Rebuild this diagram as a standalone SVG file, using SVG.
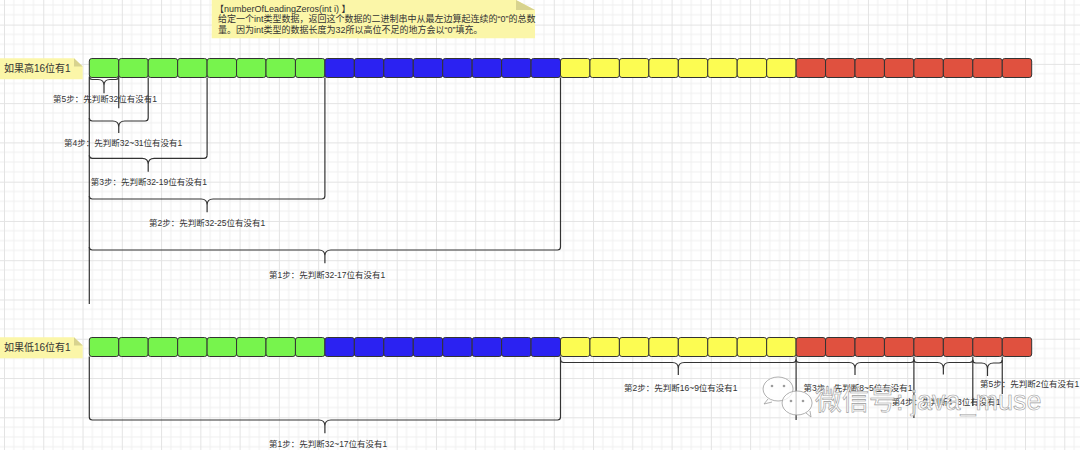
<svg xmlns="http://www.w3.org/2000/svg" width="1080" height="450" viewBox="0 0 1080 450">
<defs>
<pattern id="grid" patternUnits="userSpaceOnUse" x="4" y="24.6" width="39.27" height="39.27">
<path d="M0 9.82H39.27M0 19.64H39.27M0 29.45H39.27M9.82 0V39.27M19.64 0V39.27M29.45 0V39.27" stroke="#efefef" stroke-width="1" fill="none"/>
<path d="M0 0.5H39.27M0.5 0V39.27" stroke="#e3e3e3" stroke-width="1" fill="none"/>
</pattern>
<style>
.c{stroke:#333;stroke-width:1;rx:2.5px}
.g{fill:#77f44d}.b{fill:#2b22f2}.y{fill:#fcfc52}.r{fill:#e0513f}
.note{fill:#fbf6a8}.fold{fill:#d8d38e}
.t{font-family:"Liberation Sans","Noto Sans CJK SC",sans-serif;fill:#333}
.lbl{font-size:8.5px}
.rl{font-size:10px}
.nt{font-size:9px}
.br{fill:none;stroke:#333;stroke-width:1.2}
.wm{font-family:"Liberation Sans","Noto Sans CJK SC",sans-serif;font-size:27px;fill:#fff;fill-opacity:.75;stroke:#9c9c9c;stroke-width:.6}
.wb{fill:#fff;fill-opacity:.75;stroke:#9c9c9c;stroke-width:.8}
</style>
</defs>
<rect width="1080" height="450" fill="#fff"/>
<rect width="1080" height="450" fill="url(#grid)"/>

<g id="note-desc">
<path class="note" d="M211.7 0H516L535 10V38.3H211.7Z"/>
<path class="fold" d="M516 0V10H535Z"/>
<text class="t nt" x="215" y="12.2">【numberOfLeadingZeros(int i) 】</text>
<text class="t nt" x="218" y="22.4">给定一个int类型数据，返回这个数据的二进制串中从最左边算起连续的“0”的总数</text>
<text class="t nt" x="218" y="32.7">量。因为int类型的数据长度为32所以高位不足的地方会以“0”填充。</text>
</g>

<g id="label-high">
<path class="note" d="M0 58.3H74L82.7 66.5V79.3H0Z"/>
<path class="fold" d="M74 58.3V66.5H82.7Z"/>
<text class="t rl" x="4" y="71.8">如果高16位有1</text>
</g>
<g id="label-low">
<path class="note" d="M0 337.3H74L82.7 345.5V358.3H0Z"/>
<path class="fold" d="M74 337.3V345.5H82.7Z"/>
<text class="t rl" x="4" y="351.2">如果低16位有1</text>
</g>

<g id="top-row">
<g id="top-bit32"><rect class="c g" x="89.3" y="58.5" width="29.45" height="19"/></g>
<g id="top-bit31"><rect class="c g" x="118.75" y="58.5" width="29.45" height="19"/></g>
<g id="top-bit30"><rect class="c g" x="148.2" y="58.5" width="29.45" height="19"/></g>
<g id="top-bit29"><rect class="c g" x="177.65" y="58.5" width="29.45" height="19"/></g>
<g id="top-bit28"><rect class="c g" x="207.1" y="58.5" width="29.45" height="19"/></g>
<g id="top-bit27"><rect class="c g" x="236.55" y="58.5" width="29.45" height="19"/></g>
<g id="top-bit26"><rect class="c g" x="266" y="58.5" width="29.45" height="19"/></g>
<g id="top-bit25"><rect class="c g" x="295.45" y="58.5" width="29.45" height="19"/></g>
<g id="top-bit24"><rect class="c b" x="324.9" y="58.5" width="29.45" height="19"/></g>
<g id="top-bit23"><rect class="c b" x="354.35" y="58.5" width="29.45" height="19"/></g>
<g id="top-bit22"><rect class="c b" x="383.8" y="58.5" width="29.45" height="19"/></g>
<g id="top-bit21"><rect class="c b" x="413.25" y="58.5" width="29.45" height="19"/></g>
<g id="top-bit20"><rect class="c b" x="442.7" y="58.5" width="29.45" height="19"/></g>
<g id="top-bit19"><rect class="c b" x="472.15" y="58.5" width="29.45" height="19"/></g>
<g id="top-bit18"><rect class="c b" x="501.6" y="58.5" width="29.45" height="19"/></g>
<g id="top-bit17"><rect class="c b" x="531.05" y="58.5" width="29.45" height="19"/></g>
<g id="top-bit16"><rect class="c y" x="560.5" y="58.5" width="29.45" height="19"/></g>
<g id="top-bit15"><rect class="c y" x="589.95" y="58.5" width="29.45" height="19"/></g>
<g id="top-bit14"><rect class="c y" x="619.4" y="58.5" width="29.45" height="19"/></g>
<g id="top-bit13"><rect class="c y" x="648.85" y="58.5" width="29.45" height="19"/></g>
<g id="top-bit12"><rect class="c y" x="678.3" y="58.5" width="29.45" height="19"/></g>
<g id="top-bit11"><rect class="c y" x="707.75" y="58.5" width="29.45" height="19"/></g>
<g id="top-bit10"><rect class="c y" x="737.2" y="58.5" width="29.45" height="19"/></g>
<g id="top-bit9"><rect class="c y" x="766.65" y="58.5" width="29.45" height="19"/></g>
<g id="top-bit8"><rect class="c r" x="796.1" y="58.5" width="29.45" height="19"/></g>
<g id="top-bit7"><rect class="c r" x="825.55" y="58.5" width="29.45" height="19"/></g>
<g id="top-bit6"><rect class="c r" x="855" y="58.5" width="29.45" height="19"/></g>
<g id="top-bit5"><rect class="c r" x="884.45" y="58.5" width="29.45" height="19"/></g>
<g id="top-bit4"><rect class="c r" x="913.9" y="58.5" width="29.45" height="19"/></g>
<g id="top-bit3"><rect class="c r" x="943.35" y="58.5" width="29.45" height="19"/></g>
<g id="top-bit2"><rect class="c r" x="972.8" y="58.5" width="29.45" height="19"/></g>
<g id="top-bit1"><rect class="c r" x="1002.25" y="58.5" width="29.45" height="19"/></g>
</g>

<g id="bottom-row">
<g id="bot-bit32"><rect class="c g" x="89.3" y="337.5" width="29.45" height="19"/></g>
<g id="bot-bit31"><rect class="c g" x="118.75" y="337.5" width="29.45" height="19"/></g>
<g id="bot-bit30"><rect class="c g" x="148.2" y="337.5" width="29.45" height="19"/></g>
<g id="bot-bit29"><rect class="c g" x="177.65" y="337.5" width="29.45" height="19"/></g>
<g id="bot-bit28"><rect class="c g" x="207.1" y="337.5" width="29.45" height="19"/></g>
<g id="bot-bit27"><rect class="c g" x="236.55" y="337.5" width="29.45" height="19"/></g>
<g id="bot-bit26"><rect class="c g" x="266" y="337.5" width="29.45" height="19"/></g>
<g id="bot-bit25"><rect class="c g" x="295.45" y="337.5" width="29.45" height="19"/></g>
<g id="bot-bit24"><rect class="c b" x="324.9" y="337.5" width="29.45" height="19"/></g>
<g id="bot-bit23"><rect class="c b" x="354.35" y="337.5" width="29.45" height="19"/></g>
<g id="bot-bit22"><rect class="c b" x="383.8" y="337.5" width="29.45" height="19"/></g>
<g id="bot-bit21"><rect class="c b" x="413.25" y="337.5" width="29.45" height="19"/></g>
<g id="bot-bit20"><rect class="c b" x="442.7" y="337.5" width="29.45" height="19"/></g>
<g id="bot-bit19"><rect class="c b" x="472.15" y="337.5" width="29.45" height="19"/></g>
<g id="bot-bit18"><rect class="c b" x="501.6" y="337.5" width="29.45" height="19"/></g>
<g id="bot-bit17"><rect class="c b" x="531.05" y="337.5" width="29.45" height="19"/></g>
<g id="bot-bit16"><rect class="c y" x="560.5" y="337.5" width="29.45" height="19"/></g>
<g id="bot-bit15"><rect class="c y" x="589.95" y="337.5" width="29.45" height="19"/></g>
<g id="bot-bit14"><rect class="c y" x="619.4" y="337.5" width="29.45" height="19"/></g>
<g id="bot-bit13"><rect class="c y" x="648.85" y="337.5" width="29.45" height="19"/></g>
<g id="bot-bit12"><rect class="c y" x="678.3" y="337.5" width="29.45" height="19"/></g>
<g id="bot-bit11"><rect class="c y" x="707.75" y="337.5" width="29.45" height="19"/></g>
<g id="bot-bit10"><rect class="c y" x="737.2" y="337.5" width="29.45" height="19"/></g>
<g id="bot-bit9"><rect class="c y" x="766.65" y="337.5" width="29.45" height="19"/></g>
<g id="bot-bit8"><rect class="c r" x="796.1" y="337.5" width="29.45" height="19"/></g>
<g id="bot-bit7"><rect class="c r" x="825.55" y="337.5" width="29.45" height="19"/></g>
<g id="bot-bit6"><rect class="c r" x="855" y="337.5" width="29.45" height="19"/></g>
<g id="bot-bit5"><rect class="c r" x="884.45" y="337.5" width="29.45" height="19"/></g>
<g id="bot-bit4"><rect class="c r" x="913.9" y="337.5" width="29.45" height="19"/></g>
<g id="bot-bit3"><rect class="c r" x="943.35" y="337.5" width="29.45" height="19"/></g>
<g id="bot-bit2"><rect class="c r" x="972.8" y="337.5" width="29.45" height="19"/></g>
<g id="bot-bit1"><rect class="c r" x="1002.25" y="337.5" width="29.45" height="19"/></g>
</g>

<g id="connectors">
<path class="br" d="M89.3 77.5V304M118.75 77.5V108.3M148.2 77.5V118M207.1 77.5V155.3M324.9 77.5V196M560.5 77.5V247"/>
<path class="br" d="M89.3 76.5Q89.3 79.5 92.3 79.5L98 79.5Q104 79.5 104 85.5Q104 79.5 110 79.5L115.75 79.5Q118.75 79.5 118.75 76.5M104 85.5L104 93.3"/>
<path class="br" d="M89.3 118Q89.3 121 92.3 121L112.75 121Q118.75 121 118.75 127Q118.75 121 124.75 121L145.2 121Q148.2 121 148.2 118M118.75 127L118.75 133"/>
<path class="br" d="M89.3 155.3Q89.3 158.3 92.3 158.3L142.2 158.3Q148.2 158.3 148.2 164.3Q148.2 158.3 154.2 158.3L204.1 158.3Q207.1 158.3 207.1 155.3M148.2 164.3L148.2 171.7"/>
<path class="br" d="M89.3 196Q89.3 199 92.3 199L201.1 199Q207.1 199 207.1 205Q207.1 199 213.1 199L321.9 199Q324.9 199 324.9 196M207.1 205L207.1 212.3"/>
<path class="br" d="M89.3 247Q89.3 250 92.3 250L318.9 250Q324.9 250 324.9 256Q324.9 250 330.9 250L557.5 250Q560.5 250 560.5 247M324.9 256L324.9 263.3"/>
<path class="br" d="M89.3 356.5V417M560.5 356.5V417M796.1 356.5V420M913.9 356.5V418M972.8 356.5V406M1002.25 356.5V394"/>
<path class="br" d="M89.3 417Q89.3 420 92.3 420L318.9 420Q324.9 420 324.9 426Q324.9 420 330.9 420L557.5 420Q560.5 420 560.5 417M324.9 426L324.9 433.3"/>
<path class="br" d="M560.5 359.5Q560.5 362.5 563.5 362.5L672.3 362.5Q678.3 362.5 678.3 368.5Q678.3 362.5 684.3 362.5L793.1 362.5Q796.1 362.5 796.1 359.5M678.3 368.5L678.3 375"/>
<path class="br" d="M796.1 359.5Q796.1 362.5 799.1 362.5L849 362.5Q855 362.5 855 368.5Q855 362.5 861 362.5L910.9 362.5Q913.9 362.5 913.9 359.5M855 368.5L855 375"/>
<path class="br" d="M913.9 359.5Q913.9 362.5 916.9 362.5L937.35 362.5Q943.35 362.5 943.35 368.5Q943.35 362.5 949.35 362.5L969.8 362.5Q972.8 362.5 972.8 359.5M943.35 368.5L943.35 374.5"/>
<path class="br" d="M972.8 360Q972.8 363 975.8 363L981.5 363Q987.5 363 987.5 369Q987.5 363 993.5 363L999.25 363Q1002.25 363 1002.25 360M987.5 369L987.5 376"/>
</g>

<g id="step-labels">
<text class="t lbl" x="53" y="102.3">第5步：先判断32位有没有1</text>
<text class="t lbl" x="64" y="145.7">第4步：先判断32~31位有没有1</text>
<text class="t lbl" x="90.7" y="185.3">第3步：先判断32-19位有没有1</text>
<text class="t lbl" x="149" y="225.7">第2步：先判断32-25位有没有1</text>
<text class="t lbl" x="269" y="278">第1步：先判断32-17位有没有1</text>
<text class="t lbl" x="269" y="447.3">第1步：先判断32~17位有没有1</text>
<text class="t lbl" x="624" y="391">第2步：先判断16~9位有没有1</text>
<text class="t lbl" x="803.5" y="390.7">第3步：先判断8~5位有没有1</text>
<text class="t lbl" x="891.7" y="404.7">第4步：先判断4~3位有没有1</text>
<text class="t lbl" x="980" y="387">第5步：先判断2位有没有1</text>
</g>

<g id="watermark">
<path class="wb" d="M778 377a15 12 0 1 0 0.1 0ZM768 399l-4 5 8-2"/>
<path class="wb" d="M797 391a15 12 0 1 0 0.1 0ZM806 413l5 4-1-6"/>
<circle cx="772" cy="386" r="1.3" fill="#9c9c9c"/><circle cx="784" cy="386" r="1.3" fill="#9c9c9c"/>
<circle cx="791" cy="401" r="1.3" fill="#9c9c9c"/><circle cx="803" cy="401" r="1.3" fill="#9c9c9c"/>
<text class="wm" x="815" y="410">微信号: java_muse</text>
</g>
</svg>
